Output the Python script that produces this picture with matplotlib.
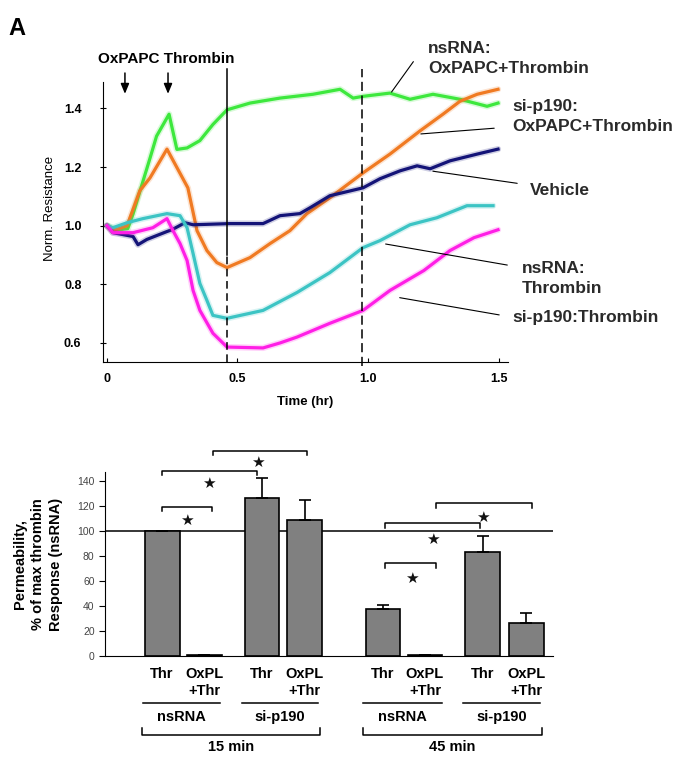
import matplotlib
matplotlib.use("Agg")
import matplotlib.pyplot as plt

plt.rcParams['font.family'] = ['Liberation Sans', 'DejaVu Sans']

# ---- panel A, top: normalized resistance traces ----
green_t = [0, 0.04, 0.08, 0.10, 0.165, 0.19, 0.238, 0.268, 0.307, 0.356, 0.406, 0.46, 0.548, 0.663,
           0.789, 0.893, 0.943, 0.981, 1.084, 1.161, 1.249, 1.352, 1.456, 1.498]
green_v = [1.0, 0.985, 0.99, 1.04, 1.23, 1.305, 1.38, 1.26, 1.265, 1.29, 1.345, 1.395, 1.418, 1.435,
           1.448, 1.465, 1.435, 1.441, 1.452, 1.431, 1.448, 1.431, 1.407, 1.418]

orange_t = [0, 0.023, 0.077, 0.126, 0.165, 0.230, 0.310, 0.345, 0.383, 0.421, 0.46, 0.548, 0.625,
            0.701, 0.766, 0.854, 0.981, 1.084, 1.199, 1.287, 1.352, 1.418, 1.498]
orange_v = [1.0, 0.983, 1.0, 1.119, 1.163, 1.261, 1.129, 0.983, 0.915, 0.874, 0.857, 0.891, 0.939,
            0.983, 1.041, 1.095, 1.180, 1.244, 1.323, 1.380, 1.424, 1.448, 1.465]

navy_t = [0, 0.023, 0.100, 0.119, 0.153, 0.230, 0.249, 0.299, 0.330, 0.471, 0.598, 0.663, 0.739,
          0.778, 0.854, 0.981, 1.046, 1.123, 1.188, 1.238, 1.314, 1.418, 1.498]
navy_v = [1.0, 0.976, 0.963, 0.935, 0.953, 0.980, 0.986, 1.010, 1.003, 1.007, 1.007, 1.034, 1.041,
          1.061, 1.102, 1.129, 1.160, 1.187, 1.204, 1.194, 1.221, 1.244, 1.261]

cyan_t = [0, 0.023, 0.077, 0.138, 0.230, 0.280, 0.307, 0.330, 0.356, 0.383, 0.406, 0.46, 0.598,
          0.728, 0.854, 0.981, 1.046, 1.161, 1.264, 1.379, 1.479]
cyan_v = [1.0, 0.993, 1.010, 1.024, 1.041, 1.034, 0.993, 0.905, 0.803, 0.745, 0.694, 0.684, 0.711,
          0.772, 0.840, 0.925, 0.949, 1.003, 1.027, 1.068, 1.068]

magenta_t = [0, 0.023, 0.100, 0.176, 0.230, 0.253, 0.280, 0.307, 0.330, 0.356, 0.406, 0.46, 0.598,
             0.663, 0.728, 0.854, 0.981, 1.084, 1.214, 1.314, 1.406, 1.498]
magenta_v = [1.0, 0.976, 0.976, 0.993, 1.024, 0.983, 0.939, 0.881, 0.779, 0.711, 0.633, 0.586, 0.583,
             0.600, 0.620, 0.667, 0.711, 0.779, 0.847, 0.915, 0.959, 0.986]

oxpapc_time = 0.069
thrombin_time = 0.234
mark15 = 0.46
mark45 = 0.977

# ---- panel A, bottom: permeability bars ----
bar_labels = ["Thr", "OxPL\n+Thr", "Thr", "OxPL\n+Thr", "Thr", "OxPL\n+Thr", "Thr", "OxPL\n+Thr"]
bar_x = [0, 1, 2.38, 3.4, 5.26, 6.26, 7.64, 8.67]
bar_vals = [100, 1, 126, 109, 37.5, 1, 83, 26]
bar_err = [0, 0, 16, 16, 3.5, 0, 13, 8]
groups = ["nsRNA", "si-p190", "nsRNA", "si-p190"]
times = ["15 min", "45 min"]

fig = plt.figure(figsize=(6.84, 7.61), dpi=100)

ax = fig.add_axes([0.1506, 0.5243, 0.592, 0.368])
for t, v, c in [(green_t, green_v, "#3de83d"), (orange_t, orange_v, "#f07a22"),
                (navy_t, navy_v, "#141478"), (cyan_t, cyan_v, "#3cc4c4"),
                (magenta_t, magenta_v, "#ff1ee6")]:
    ax.plot(t, v, color=c, lw=4.5, alpha=0.2, solid_capstyle="round")
    ax.plot(t, v, color=c, lw=2.3)

ax.set_xlim(-0.015, 1.536)
ax.set_ylim(0.535, 1.49)
ax.spines["top"].set_visible(False)
ax.spines["right"].set_visible(False)
ax.set_xticks([0, 0.5, 1.0, 1.5])
ax.set_xticklabels(["0", "0.5", "1.0", "1.5"])
ax.set_yticks([0.6, 0.8, 1.0, 1.2, 1.4])
ax.tick_params(axis="x", direction="in", length=3, labelsize=9, pad=8)
ax.tick_params(axis="y", direction="inout", length=5, labelsize=9, pad=13)
for lab in ax.get_xticklabels() + ax.get_yticklabels():
    lab.set_fontweight("bold")
ax.set_xlabel("Time (hr)", fontsize=9.5, fontweight="bold", labelpad=8)
ax.set_ylabel("Norm. Resistance", fontsize=9.5)
ax.yaxis.set_label_coords(-0.115, 0.55)

# time markers
ax.plot([mark15, mark15], [0.9, 1.535], color="black", lw=1.1, clip_on=False)
ax.plot([mark15, mark15], [0.535, 0.9], color="black", lw=1.1, ls=(0, (5, 3)), clip_on=False)
ax.plot([mark45, mark45], [0.52, 1.535], color="black", lw=1.1, ls=(0, (6, 3)), clip_on=False)

ax.text(0.226, 1.57, "OxPAPC Thrombin", ha="center", va="center", fontsize=11, fontweight="bold")
for t in [oxpapc_time, thrombin_time]:
    ax.annotate("", xy=(t, 1.44), xytext=(t, 1.53), annotation_clip=False,
                arrowprops=dict(arrowstyle="-|>,head_width=0.25,head_length=0.6", color="black", lw=1.1))

labels_top = [
    ("nsRNA:\nOxPAPC+Thrombin", (1.23, 1.63), (1.18, 1.567), (1.084, 1.448), "top"),
    ("si-p190:\nOxPAPC+Thrombin", (1.552, 1.432), (1.494, 1.333), (1.192, 1.312), "top"),
    ("Vehicle", (1.621, 1.119), (1.582, 1.143), (1.238, 1.187), "center"),
    ("nsRNA:\nThrombin", (1.59, 0.88), (1.544, 0.864), (1.057, 0.939), "top"),
    ("si-p190:Thrombin", (1.552, 0.688), (1.513, 0.694), (1.111, 0.756), "center"),
]
for txt, pos, p1, p2, va in labels_top:
    ax.text(pos[0], pos[1], txt, ha="left", va=va, fontsize=12.5, fontweight="bold",
            color="#2a2a2a", linespacing=1.45, clip_on=False)
    ax.annotate("", xy=p2, xytext=p1, annotation_clip=False,
                arrowprops=dict(arrowstyle="-", color="black", lw=0.8))

fig.text(0.013, 0.978, "A", fontsize=17, fontweight="bold", va="top")

# ---- bottom bar chart ----
bx = fig.add_axes([0.1535, 0.138, 0.655, 0.2418])
bx.bar(bar_x, bar_vals, width=0.83, color="#808080", edgecolor="black", lw=1.2, zorder=2)
bx.errorbar(bar_x, bar_vals, yerr=[[0] * len(bar_err), bar_err], fmt="none", ecolor="black",
            elinewidth=1.2, capsize=4, capthick=1.2, zorder=3)
bx.axhline(100, color="black", lw=1.1, zorder=1)
bx.set_xlim(-1.36, 9.31)
bx.set_ylim(0, 147)
bx.set_yticks(range(0, 141, 20))
bx.set_xticks([])
bx.spines["top"].set_visible(False)
bx.spines["right"].set_visible(False)
bx.tick_params(axis="y", length=4, labelsize=7.5, labelcolor="#444444")
bx.set_ylabel("Permeability,\n% of max thrombin\nResponse (nsRNA)", fontsize=10.5,
              fontweight="bold", labelpad=10, linespacing=1.35)

# significance brackets: (x0, x1, y, star x, star y)
sig = [(0, 1.19, 119, 0.6, 108), (0, 2.26, 148, 1.12, 138), (1.21, 3.45, 164, 2.29, 155),
       (5.31, 6.52, 74, 5.95, 62), (5.31, 7.57, 106, 6.45, 93), (6.52, 8.81, 122, 7.64, 111)]
for x0, x1, y, sx, sy in sig:
    bx.plot([x0, x0, x1, x1], [y - 3.5, y, y, y - 3.5], color="black", lw=1.1, clip_on=False)
    bx.text(sx, sy, "\u2605", ha="center", va="center", fontsize=11, family="DejaVu Sans",
            color="#111111")

for x, lab in zip(bar_x, bar_labels):
    bx.text(x, -8.5, lab, ha="center", va="top", fontsize=10.5, fontweight="bold",
            linespacing=1.3, clip_on=False)

group_spans = [(-0.45, 1.38), (1.9, 3.71), (4.79, 6.67), (7.17, 9.0)]
for (a, b), g in zip(group_spans, groups):
    bx.plot([a, b], [-37.6, -37.6], color="black", lw=1.1, clip_on=False)
    bx.text((a + b) / 2, -48.8, g, ha="center", va="center", fontsize=10.5, fontweight="bold")

time_spans = [(-0.48, 3.76), (4.79, 9.05)]
for (a, b), t in zip(time_spans, times):
    bx.plot([a, a, b, b], [-57.6, -63.2, -63.2, -57.6], color="black", lw=1.1, clip_on=False)
    bx.text((a + b) / 2, -73, t, ha="center", va="center", fontsize=10.5, fontweight="bold")

fig.savefig("out.png", dpi=100)
